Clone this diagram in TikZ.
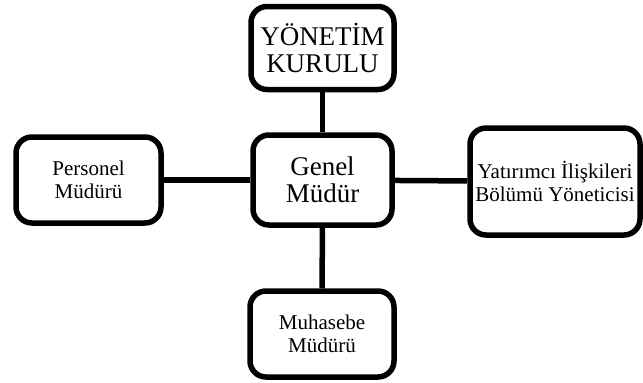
\documentclass[tikz,border=0pt]{standalone}
\usepackage{fontspec}
\setmainfont{Liberation Serif}

\begin{document}
\begin{tikzpicture}[x=1pt, y=-1pt, line width=5.5pt,
    every node/.style={draw, rounded corners=16pt, align=center, inner sep=0pt},
    small/.style={font=\fontsize{21}{22.5}\selectfont},
    big/.style={font=\fontsize{27}{27}\selectfont}]
        \useasboundingbox (0,0) rectangle (643,383);

        \node[big, minimum width=143pt, minimum height=83pt] (K) at (322.5,48) {YÖNETİM\\KURULU};
        \node[big, minimum width=139pt, minimum height=90pt] (G) at (322.5,180) {Genel\\Müdür};
        \node[small, minimum width=145pt, minimum height=86pt] (P) at (88.5,180) {Personel\\Müdürü};
        \node[small, minimum width=170pt, minimum height=107pt] (Y) at (555,181.5) {Yatırımcı İlişkileri\\Bölümü Yöneticisi};
        \node[small, minimum width=144pt, minimum height=86pt] (M) at (322,334) {Muhasebe\\Müdürü};

        \draw (G) -- (K);
        \draw (G) -- (P);
        \draw (G) -- (Y);
        \draw (G) -- (M);
    \end{tikzpicture}
\end{document}
